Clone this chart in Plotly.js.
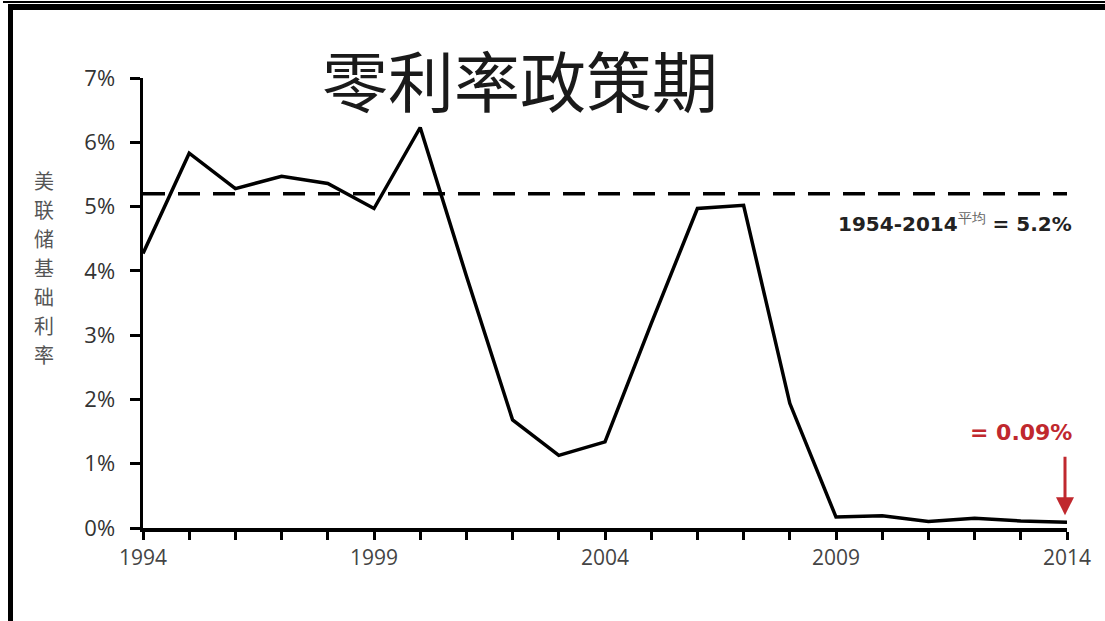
<!DOCTYPE html>
<html>
<head>
<meta charset="utf-8">
<script src="https://cdn.plot.ly/plotly-3.0.1.min.js"></script>
<style>
  html, body { margin:0; padding:0; background:#fff; width:1105px; height:621px; overflow:hidden; }
  #topline { position:absolute; left:3px; top:1px; width:1102px; height:2px; background:#000; }
  #frame { position:absolute; left:8px; top:4px; width:1105px; height:611px;
           border-top:6px solid #000; border-left:5px solid #000; border-bottom:2px solid #777; box-sizing:content-box; }
  #chart { position:absolute; left:0; top:0; width:1105px; height:621px; }
</style>
</head>
<body>
<div id="topline"></div>
<div id="frame"></div>
<div id="chart"></div>
<script>
// Data
const years = [1994,1995,1996,1997,1998,1999,2000,2001,2002,2003,2004,2005,2006,2007,2008,2009,2010,2011,2012,2013,2014];
const rates = [4.27,5.83,5.28,5.47,5.36,4.97,6.23,3.92,1.68,1.13,1.34,3.18,4.97,5.02,1.94,0.17,0.19,0.10,0.15,0.11,0.09];
const avgRange = [1994, 2014];
const avgValue = 5.2;
const yTicks = [0,1,2,3,4,5,6,7];
const yTickLabels = ['0%','1%','2%','3%','4%','5%','6%','7%'];
const xTicks = [1994,1999,2004,2009,2014];
const xTickLabels = ['1994','1999','2004','2009','2014'];
const titleText = '零利率政策期';
const yTitleChars = ['美','联','储','基','础','利','率'];
const avgMain = '1954-2014';
const avgSup = '平均';
const avgTail = ' = 5.2%';
const latestLabel = '= 0.09%';

const traces = [
  {
    x: years, y: rates, type:'scatter', mode:'lines',
    line:{color:'#000', width:3.5}, hoverinfo:'skip', showlegend:false, cliponaxis:false
  },
  {
    x: avgRange, y: [avgValue, avgValue], type:'scatter', mode:'lines',
    line:{color:'#000', width:3.5, dash:'22px,13px'}, hoverinfo:'skip', showlegend:false
  }
];

// vertical stacked y-axis title, one annotation per character
const yTitleAnns = yTitleChars.map((ch, i) => ({
  xref:'paper', yref:'paper', x:0, y:1, xshift:-99, yshift:-102 - i*29,
  xanchor:'center', yanchor:'middle', text:ch, showarrow:false,
  font:{family:'"Noto Sans CJK SC", sans-serif', size:20, color:'#555'}
}));

const layout = {
  width:1105, height:621,
  margin:{l:143, r:38, t:78, b:93},
  paper_bgcolor:'rgba(0,0,0,0)', plot_bgcolor:'rgba(0,0,0,0)',
  showlegend:false,
  title:{
    text:titleText, xref:'container', yref:'container', x:0.4706, y:0.865,
    xanchor:'center', yanchor:'middle',
    font:{family:'"Noto Sans CJK SC", sans-serif', size:66, color:'#1a1a1a'}
  },
  xaxis:{
    range:[1994, 2014], showgrid:false, zeroline:false,
    showline:true, linecolor:'#000', linewidth:3.5,
    tickmode:'array', tickvals:xTicks, ticktext:xTickLabels,
    ticks:'outside', ticklen:8, tickwidth:3, tickcolor:'#000',
    minor:{dtick:1, ticks:'outside', ticklen:8, tickwidth:3, tickcolor:'#000', showgrid:false},
    tickfont:{family:'"Open Sans", sans-serif', size:21, color:'#444'}
  },
  yaxis:{
    range:[0, 7], showgrid:false, zeroline:false,
    showline:true, linecolor:'#000', linewidth:3.5,
    tickmode:'array', tickvals:yTicks, ticktext:yTickLabels,
    ticks:'outside', ticklen:10, tickwidth:3, tickcolor:'#000',
    ticklabelstandoff:10,
    tickfont:{family:'"Open Sans", sans-serif', size:22, color:'#333'}
  },
  annotations: yTitleAnns.concat([
    {
      x:2014, y:4.74, xref:'x', yref:'y', xanchor:'right', yanchor:'middle', xshift:7,
      text:'<b>'+avgMain+'</b><sup><span style="font-weight:normal;color:#666">'+avgSup+'</span></sup><b>'+avgTail+'</b>',
      showarrow:false,
      font:{family:'"DejaVu Sans", sans-serif', size:20, color:'#222'}
    },
    {
      x:2014, y:1.48, xref:'x', yref:'y', xanchor:'right', yanchor:'middle', xshift:7,
      text:'<b>'+latestLabel+'</b>', showarrow:false,
      font:{family:'"DejaVu Sans", sans-serif', size:22, color:'#c0282e'}
    },
    {
      x:2014, y:0.2, xref:'x', yref:'y', ax:0, ay:-60, xshift:-2,
      text:'', showarrow:true, arrowhead:2, arrowsize:1.2, arrowwidth:3, arrowcolor:'#c0282e'
    }
  ])
};

Plotly.newPlot('chart', traces, layout, {staticPlot:true, displayModeBar:false});
</script>
</body>
</html>
